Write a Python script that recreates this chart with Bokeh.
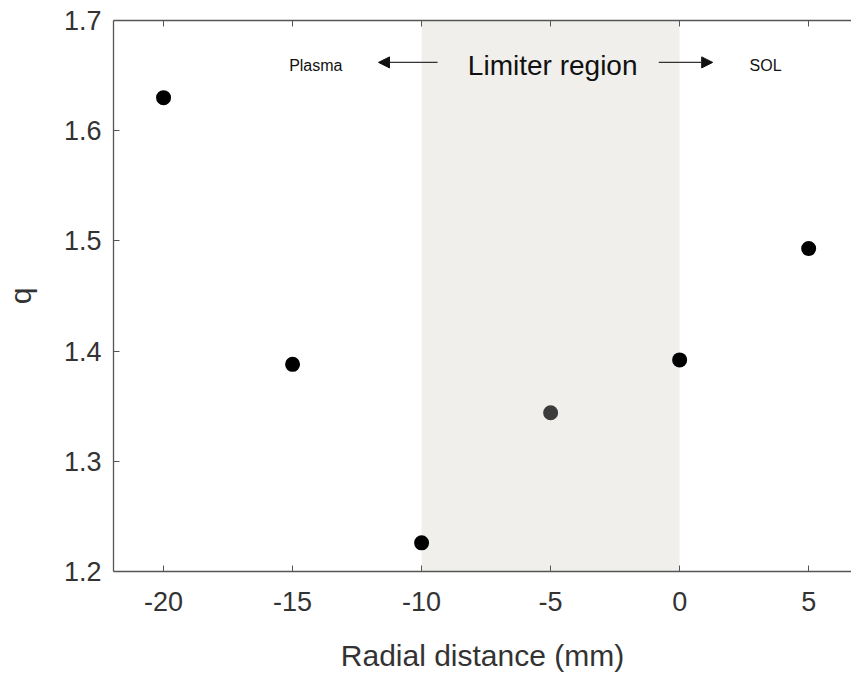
from bokeh.plotting import figure
from bokeh.models import BoxAnnotation, Arrow, NormalHead, LinearAxis, FixedTicker, Label
from bokeh.embed import file_html
from bokeh.resources import INLINE

# Data
radial_mm = [-20, -15, -10, -5, 0, 5]
q_values = [1.630, 1.388, 1.226, 1.344, 1.392, 1.493]
point_colors = ["#000000", "#000000", "#000000", "#3c3c3c", "#000000", "#000000"]
x_ticks = [-20, -15, -10, -5, 0, 5]
x_tick_labels = ["-20", "-15", "-10", "-5", "0", "5"]
y_ticks = [1.2, 1.3, 1.4, 1.5, 1.6, 1.7]
limiter_region = (-10, 0)

FONT = "Liberation Sans"

p = figure(frame_width=738, frame_height=551, output_backend="svg", toolbar_location=None,
           x_range=(-21.94, 6.66), y_range=(1.2, 1.7),
           min_border_left=111, min_border_right=0, min_border_top=20, min_border_bottom=10,
           x_axis_label="Radial distance (mm)", y_axis_label="q")
p.outline_line_color = None
p.grid.visible = False
p.background_fill_color = "white"

p.add_layout(BoxAnnotation(left=limiter_region[0], right=limiter_region[1],
                           fill_color="#f0efeb", fill_alpha=1.0, line_color=None, level="underlay"))

p.scatter(radial_mm, q_values, size=15, color=point_colors, line_color=None)

for ax in [p.xaxis[0], p.yaxis[0]]:
    ax.axis_line_color = "#555555"
    ax.axis_line_width = 1.3
    ax.major_tick_line_color = "#555555"
    ax.major_tick_in = 6
    ax.major_tick_out = 0
    ax.minor_tick_line_color = None
    ax.major_label_text_font = FONT
    ax.major_label_text_color = "#333333"
    ax.axis_label_text_font = FONT
    ax.axis_label_text_font_style = "normal"
    ax.axis_label_text_color = "#333333"

p.xaxis[0].ticker = FixedTicker(ticks=x_ticks)
p.xaxis[0].major_label_overrides = {t: s for t, s in zip(x_ticks, x_tick_labels)}
p.yaxis[0].ticker = FixedTicker(ticks=y_ticks)
p.xaxis[0].major_label_text_font_size = "27px"
p.yaxis[0].major_label_text_font_size = "27px"
p.xaxis[0].axis_label_text_font_size = "30px"
p.yaxis[0].axis_label_text_font_size = "30px"
p.xaxis[0].major_label_standoff = 20
p.xaxis[0].axis_label_standoff = 25
p.yaxis[0].major_label_standoff = 12
p.yaxis[0].axis_label_standoff = 24

top = LinearAxis(ticker=FixedTicker(ticks=x_ticks), major_label_text_font_size="0px",
                 major_label_text_alpha=0, axis_line_color="#555555", axis_line_width=1.3,
                 major_tick_line_color="#555555", major_tick_in=6, major_tick_out=0,
                 minor_tick_line_color=None, major_label_standoff=0)
p.add_layout(top, "above")

# Annotations
label_y = 1.659
p.add_layout(Label(x=-4.92, y=label_y, text="Limiter region", text_font=FONT, text_font_size="28px",
                   text_align="center", text_baseline="middle", text_color="#111111"))
p.add_layout(Label(x=-14.1, y=label_y, text="Plasma", text_font=FONT, text_font_size="16px",
                   text_align="center", text_baseline="middle", text_color="#111111"))
p.add_layout(Label(x=3.33, y=label_y, text="SOL", text_font=FONT, text_font_size="16px",
                   text_align="center", text_baseline="middle", text_color="#111111"))
arrow_y = 1.662
p.add_layout(Arrow(x_start=-9.38, y_start=arrow_y, x_end=-11.67, y_end=arrow_y,
                   line_color="#333333", line_width=1.2,
                   end=NormalHead(size=11, fill_color="#111111", line_color="#111111")))
p.add_layout(Arrow(x_start=-0.81, y_start=arrow_y, x_end=1.28, y_end=arrow_y,
                   line_color="#333333", line_width=1.2,
                   end=NormalHead(size=11, fill_color="#111111", line_color="#111111")))

open("out.html", "w").write(file_html(p, INLINE))
